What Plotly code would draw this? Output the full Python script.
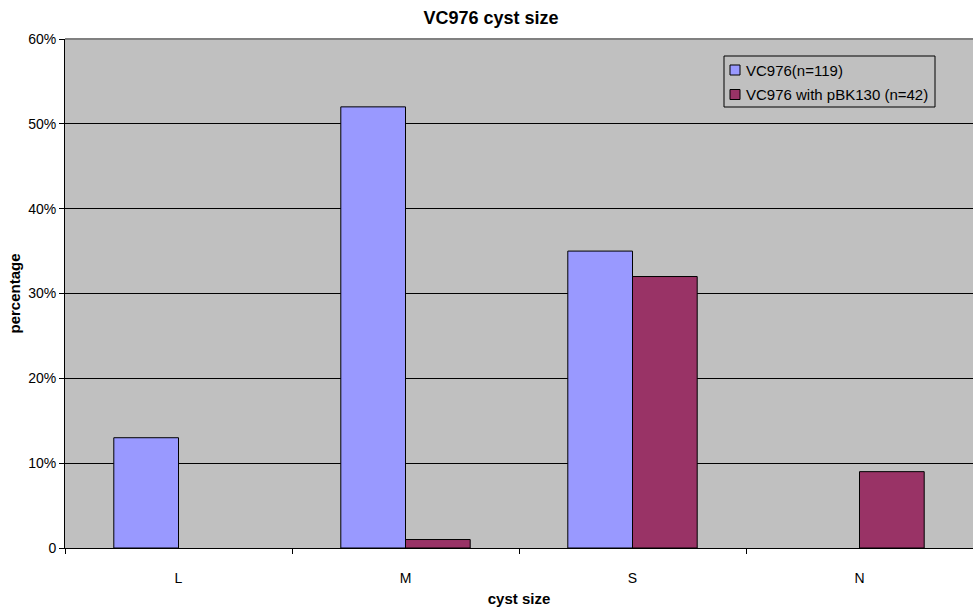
import plotly.graph_objects as go

categories = ["L", "M", "S", "N"]
# None where a group has no bar in that category
vc976 = [0.13, 0.52, 0.35, None]
vc976_pbk130 = [None, 0.01, 0.32, 0.09]
series_names = ["VC976(n=119)", "VC976 with pBK130 (n=42)"]
series_colors = ["#9999FF", "#993366"]
y_ticks = [0, 0.1, 0.2, 0.3, 0.4, 0.5, 0.6]
y_tick_labels = ["0", "10%", "20%", "30%", "40%", "50%", "60%"]

font_family = "Liberation Sans, Arial, sans-serif"
W, H = 973, 608
M_L, M_R, M_T, M_B = 65, 0, 39, 60

fig = go.Figure()
for name, values, color in zip(series_names, [vc976, vc976_pbk130], series_colors):
    fig.add_trace(go.Bar(
        name=name, x=categories, y=values,
        marker=dict(color=color, line=dict(color="#000000", width=1)),
        showlegend=False,
    ))

fig.update_layout(
    width=W, height=H,
    margin=dict(l=M_L, r=M_R, t=M_T, b=M_B),
    paper_bgcolor="#FFFFFF",
    plot_bgcolor="#C0C0C0",
    barmode="group",
    bargap=0.43,
    bargroupgap=0,
    font=dict(family=font_family, size=14, color="#000000"),
    title=dict(
        text="<b>VC976 cyst size</b>",
        x=491 / W, xanchor="center",
        y=1 - 18 / H, yanchor="middle",
        font=dict(size=18),
    ),
    xaxis=dict(
        title=dict(text="<b>cyst size</b>", font=dict(size=15), standoff=8),
        showline=True, linecolor="#000000", linewidth=1,
        ticks="outside", ticklen=5, tickcolor="#000000",
        tickson="boundaries",
        showgrid=False,
        ticklabelstandoff=17,
    ),
    yaxis=dict(
        title=dict(text="<b>percentage</b>", font=dict(size=15), standoff=3),
        range=[0, 0.6],
        tickvals=y_ticks, ticktext=y_tick_labels,
        showline=True, linecolor="#000000", linewidth=1,
        ticks="outside", ticklen=5, tickcolor="#000000",
        showgrid=True, gridcolor="#000000", gridwidth=1,
        zeroline=False,
        ticklabelstandoff=0,
    ),
)

# gray border along the top of the plot area
fig.add_shape(type="line", xref="paper", yref="paper", x0=0, x1=1, y0=1, y1=1,
              line=dict(color="#808080", width=2))

# boxed legend in the upper right of the plot area
def px_to_paper(px, py):
    return (px - M_L) / (W - M_L - M_R), (H - M_B - py) / (H - M_T - M_B)

bx0, by0 = px_to_paper(724, 56)
bx1, by1 = px_to_paper(935, 107)
fig.add_shape(type="rect", xref="paper", yref="paper", x0=bx0, x1=bx1, y0=by1, y1=by0,
              line=dict(color="#000000", width=1), fillcolor="#C0C0C0", layer="above")
for i, (name, color) in enumerate(zip(series_names, series_colors)):
    cy = 70 + 24.5 * i
    sx0, sy0 = px_to_paper(730, cy - 5)
    sx1, sy1 = px_to_paper(740, cy + 5)
    fig.add_shape(type="rect", xref="paper", yref="paper", x0=sx0, x1=sx1, y0=sy1, y1=sy0,
                  line=dict(color="#000000", width=1), fillcolor=color, layer="above")
    tx, ty = px_to_paper(744, cy)
    fig.add_annotation(xref="paper", yref="paper", x=tx, y=ty, text=name,
                       showarrow=False, xanchor="left", yanchor="middle",
                       font=dict(size=15, color="#000000"))

fig.write_html("out.html")
